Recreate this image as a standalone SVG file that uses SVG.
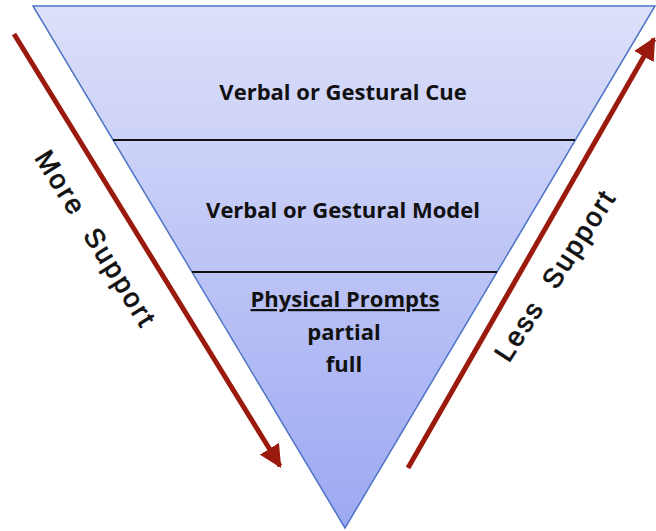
<svg xmlns="http://www.w3.org/2000/svg" width="656" height="531" viewBox="0 0 656 531">
<defs>
<linearGradient id="fillGrad" x1="0" y1="0" x2="0" y2="1">
<stop offset="0" stop-color="#dde0f9"/>
<stop offset="1" stop-color="#9ca8f2"/>
</linearGradient>
<marker id="arrowHead" viewBox="0 0 10 10" refX="9" refY="5" markerWidth="4.5" markerHeight="4.5" orient="auto" markerUnits="strokeWidth">
<path d="M0,0 L10,5 L0,10 z" fill="#9b1a0e"/>
</marker>
</defs>
<style>
.lbl{font-family:"Open Sans","Liberation Sans",sans-serif;font-weight:bold;font-size:22px;fill:#111;text-anchor:middle}
.side{font-family:"Liberation Sans",Arial,sans-serif;font-size:27px;letter-spacing:2.5px;fill:#111;stroke:#111;stroke-width:0.8;text-anchor:middle}
.arrow{stroke:#9b1a0e;stroke-width:5;fill:none}
.divider{stroke:#111;stroke-width:2}
</style>
<rect width="656" height="531" fill="#ffffff"/>
<g id="pyramid">
<polygon points="33,6 655,6 345,528" fill="url(#fillGrad)" stroke="#4d74c6" stroke-width="1.5"/>
<line class="divider" x1="113" y1="140" x2="575" y2="140"/>
<line class="divider" x1="192" y1="272" x2="497" y2="272"/>
</g>
<g id="level1">
<text class="lbl" x="343" y="100">Verbal or Gestural Cue</text>
</g>
<g id="level2">
<text class="lbl" x="343" y="218">Verbal or Gestural Model</text>
</g>
<g id="level3">
<text class="lbl" x="345" y="307" text-decoration="underline">Physical Prompts</text>
<text class="lbl" x="344" y="340">partial</text>
<text class="lbl" x="344" y="372">full</text>
</g>
<g id="connectors">
<line class="arrow" x1="14" y1="34" x2="280" y2="466" marker-end="url(#arrowHead)"/>
<line class="arrow" x1="408" y1="468" x2="654" y2="39" marker-end="url(#arrowHead)"/>
</g>
<g id="labels">
<text class="side" xml:space="preserve" transform="translate(88,244) rotate(58)">More  Support</text>
<text class="side" xml:space="preserve" transform="translate(563,280) rotate(-57)">Less  Support</text>
</g>
</svg>
